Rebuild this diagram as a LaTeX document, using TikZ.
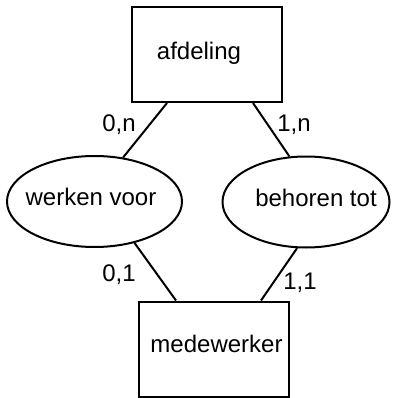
\documentclass[tikz,border=0pt]{standalone}
\usepackage{fontspec}
\setmainfont{Liberation Sans}
\usetikzlibrary{shapes.geometric}
\begin{document}
\begin{tikzpicture}[x=1pt, y=-1pt, line width=2pt,
  font=\fontsize{24}{28}\selectfont,
  entity/.style={draw, rectangle, minimum width=150pt, minimum height=95pt, inner sep=0pt},
  relation/.style={draw, ellipse, minimum height=91pt, inner sep=0pt},
  card/.style={inner sep=0pt}]
  \useasboundingbox (0,0) rectangle (392,398);

  % entities
  \node[entity, label={[xshift=-8pt, yshift=1pt]center:afdeling}] (afd) at (207,54.5) {};
  \node[entity, label={[xshift=2.5pt, yshift=5pt]center:medewerker}] (med) at (214,349) {};

  % relationships
  \node[relation, minimum width=175pt,
        label={[xshift=-3.5pt, yshift=4.5pt]center:werken voor}] (werk) at (94.5,201.5) {};
  \node[relation, minimum width=167pt,
        label={[xshift=10pt, yshift=4.5pt]center:behoren tot}] (beh) at (306,202) {};

  % connectors
  \draw ([xshift=36pt]afd.south west) -- (werk.57);
  \draw ([xshift=-30pt]afd.south east) -- (beh.110);
  \draw (werk.-46) -- ([xshift=38pt]med.north west);
  \draw (beh.-101) -- ([xshift=-29pt]med.north east);

  % cardinalities
  \node[card] (c1) at (119,125) {0,n};
  \node[card] (c2) at (294,125) {1,n};
  \node[card] (c3) at (119,275) {0,1};
  \node[card] (c4) at (300,283) {1,1};
\end{tikzpicture}
\end{document}
